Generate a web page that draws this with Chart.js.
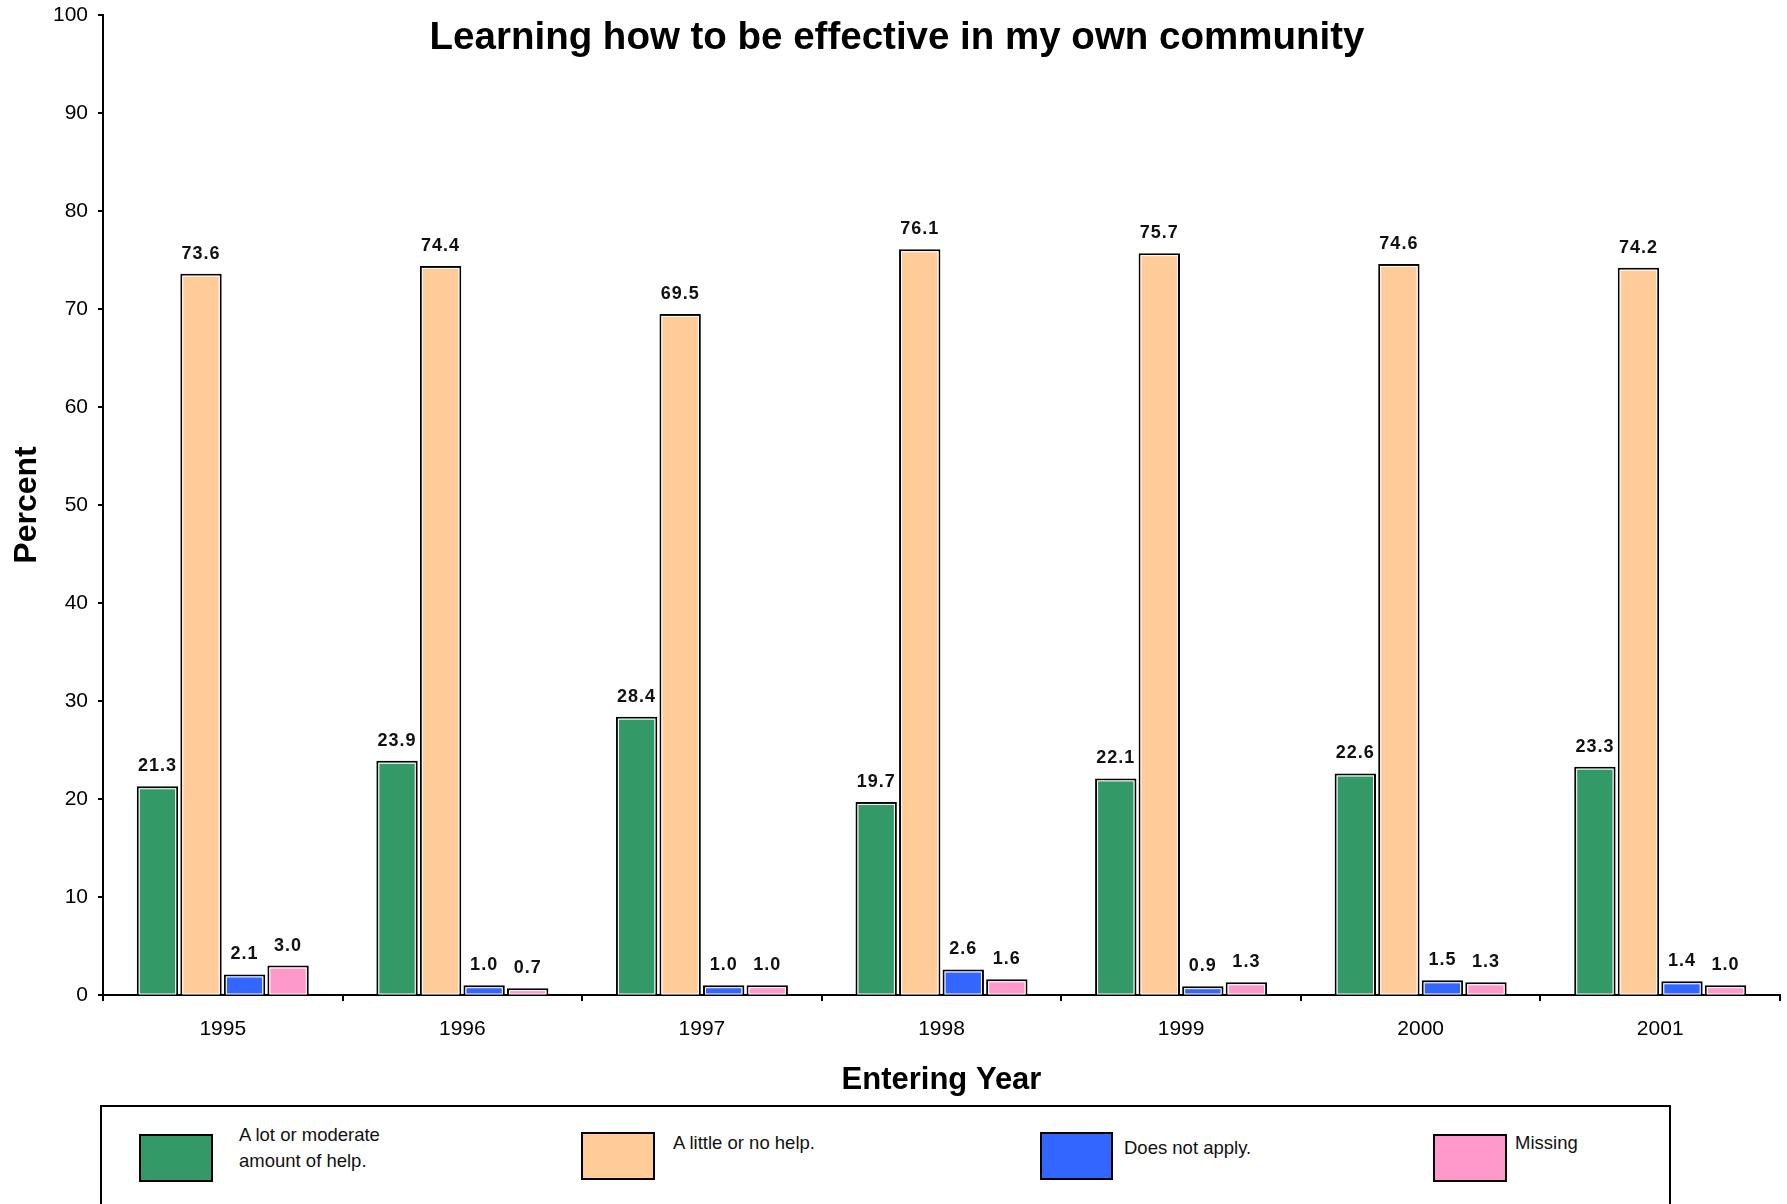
<!DOCTYPE html>
<html>
<head>
<meta charset="utf-8">
<script src="https://cdn.jsdelivr.net/npm/chart.js@4/dist/chart.umd.min.js"></script>
<style>
  body { margin: 0; background: #fff; font-family: "Liberation Sans", Arial, sans-serif; }
  #wrap { position: relative; width: 1787px; height: 1100px; }
  #legend { position: absolute; left: 100px; top: 1105px; width: 1571px; height: 140px;
            border: 2px solid #000; box-sizing: border-box; }
  .swatch { position: absolute; width: 70px; height: 48px; border: 2px solid #000; box-sizing: border-box; }
  .text { position: absolute; font-size: 18.5px; line-height: 26px; color: #111; white-space: normal; }
</style>
</head>
<body>
<div id="wrap"><canvas id="chart"></canvas></div>
<div id="legend"></div>
<script>
const years = ['1995', '1996', '1997', '1998', '1999', '2000', '2001'];
const lotHelp = [21.3, 23.9, 28.4, 19.7, 22.1, 22.6, 23.3];
const littleHelp = [73.6, 74.4, 69.5, 76.1, 75.7, 74.6, 74.2];
const notApply = [2.1, 1.0, 1.0, 2.6, 0.9, 1.5, 1.4];
const missing = [3.0, 0.7, 1.0, 1.6, 1.3, 1.3, 1.0];
const seriesNames = ['A lot or moderate amount of help.', 'A little or no help.', 'Does not apply.', 'Missing'];
const colors = ['#339966', '#FFCC99', '#3366FF', '#FF99CC'];

const font = '"Liberation Sans", Arial, sans-serif';

// chart title sits over the plot area, so draw it by hand
const titlePlugin = {
  id: 'topTitle',
  afterDraw(chart) {
    const ctx = chart.ctx;
    ctx.save();
    ctx.font = 'bold 38.5px ' + font;
    ctx.fillStyle = '#000';
    ctx.textAlign = 'center';
    ctx.textBaseline = 'middle';
    ctx.fillText('Learning how to be effective in my own community', 897, 38.5);
    ctx.restore();
  }
};

// white inner edge + value labels above bars
const barLabels = {
  id: 'barLabels',
  afterDatasetsDraw(chart) {
    const ctx = chart.ctx;
    ctx.save();
    chart.data.datasets.forEach((ds, i) => {
      chart.getDatasetMeta(i).data.forEach((bar, j) => {
        const { x, y, base, width } = bar.getProps(['x', 'y', 'base', 'width'], true);
        ctx.strokeStyle = '#fff';
        ctx.lineWidth = 1;
        ctx.strokeRect(x - width / 2 + 2.5, y + 2.5, width - 5, base - y - 2.5);
        ctx.fillStyle = '#111';
        ctx.font = 'bold 18px ' + font;
        ctx.letterSpacing = '1px';
        ctx.textAlign = 'center';
        ctx.textBaseline = 'middle';
        ctx.fillText(ds.data[j].toFixed(1), x, y - 20);
      });
    });
    ctx.restore();
  }
};

const seriesData = [lotHelp, littleHelp, notApply, missing];

new Chart(document.getElementById('chart').getContext('2d'), {
  type: 'bar',
  data: {
    labels: years,
    datasets: seriesData.map((values, i) => ({
      label: seriesNames[i],
      data: values,
      backgroundColor: colors[i],
      borderColor: '#000',
      borderWidth: 2,
      categoryPercentage: 0.727,
      barPercentage: 0.95
    }))
  },
  options: {
    responsive: true,
    maintainAspectRatio: false,
    animation: false,
    layout: { padding: { top: 15, right: 7, left: 0, bottom: 0 } },
    plugins: {
      legend: { display: false },
      tooltip: { enabled: false }
    },
    scales: {
      x: {
        afterFit: scale => { scale.height = 105; },
        grid: { drawOnChartArea: false, color: '#000', tickLength: 6, lineWidth: 2 },
        border: { color: '#000', width: 2 },
        ticks: { color: '#000', font: { family: font, size: 21 }, padding: 16 },
        title: { display: true, text: 'Entering Year', color: '#000',
                 font: { family: font, size: 31, weight: 'bold' }, padding: { top: 0, bottom: 0.5 } }
      },
      y: {
        min: 0,
        max: 100,
        afterFit: scale => { scale.width = 103; scale.paddingTop = 0; },
        grid: { drawOnChartArea: false, color: '#000', tickLength: 5, lineWidth: 2 },
        border: { color: '#000', width: 2 },
        ticks: { stepSize: 10, color: '#000', font: { family: font, size: 21 }, padding: 10 },
        title: { display: true, text: 'Percent', color: '#000',
                 font: { family: font, size: 32, weight: 'bold' }, padding: { top: 8, bottom: 0 } }
      }
    }
  },
  plugins: [titlePlugin, barLabels]
});

// legend box below the plot
const legendPos = [
  { sx: 139, sy: 1134, tx: 239, ty: 1122, w: 165 },
  { sx: 581, sy: 1132, tx: 673, ty: 1130, w: 260 },
  { sx: 1040, sy: 1132, tx: 1124, ty: 1135, w: 260 },
  { sx: 1433, sy: 1134, tx: 1515, ty: 1130, w: 150 }
];
const legend = document.getElementById('legend');
seriesNames.forEach((name, i) => {
  const p = legendPos[i];
  const sw = document.createElement('div');
  sw.className = 'swatch';
  sw.style.left = (p.sx - 102) + 'px';
  sw.style.top = (p.sy - 1107) + 'px';
  sw.style.width = (i === 2 ? 73 : 74) + 'px';
  sw.style.background = colors[i];
  legend.appendChild(sw);
  const tx = document.createElement('div');
  tx.className = 'text';
  tx.style.left = (p.tx - 102) + 'px';
  tx.style.top = (p.ty - 1107) + 'px';
  tx.style.width = p.w + 'px';
  tx.textContent = name;
  legend.appendChild(tx);
});
</script>
</body>
</html>
